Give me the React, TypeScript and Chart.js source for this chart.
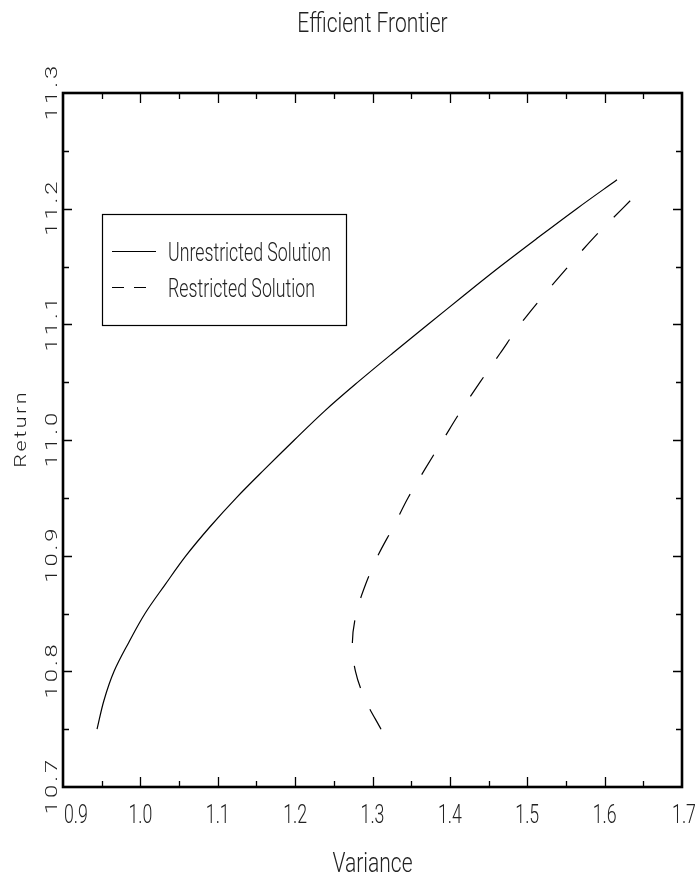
import React, { useEffect, useRef } from "react";
import { Chart, registerables } from "chart.js";

Chart.register(...registerables);

// ---- data ----
const unrestrictedReturn = [10.75, 10.775, 10.8, 10.825, 10.85, 10.875, 10.9, 10.925, 10.95, 10.975, 11.0, 11.025, 11.05, 11.075, 11.1, 11.125, 11.15, 11.175, 11.2, 11.225];
const unrestrictedVariance = [0.944, 0.953, 0.966, 0.985, 1.006, 1.032, 1.059, 1.09, 1.124, 1.161, 1.199, 1.238, 1.281, 1.326, 1.372, 1.418, 1.465, 1.514, 1.564, 1.616];

const restrictedReturn = [10.75, 10.775, 10.8, 10.825, 10.85, 10.875, 10.9, 10.925, 10.95, 10.975, 11.0, 11.025, 11.05, 11.075, 11.1, 11.125, 11.15, 11.175, 11.2, 11.219];
const restrictedVariance = [1.311, 1.291, 1.278, 1.274, 1.279, 1.291, 1.307, 1.327, 1.346, 1.368, 1.391, 1.414, 1.439, 1.465, 1.491, 1.521, 1.553, 1.586, 1.623, 1.651];

const seriesNames = ["Unrestricted Solution", "Restricted Solution"];
const chartTitle = "Efficient Frontier";
const xTitle = "Variance";
const yTitle = "Return";
const xMin = 0.9, xMax = 1.7, yMin = 10.7, yMax = 11.3;

const TEXT = "#222";
const LABEL_FONT = '300 25px Roboto, "Liberation Sans", Arial, sans-serif';
const TITLE_FONT = '300 28px Roboto, "Liberation Sans", Arial, sans-serif';
const ROT_FONT = '300 17px Roboto, "DejaVu Sans", sans-serif';
const ROT_TITLE_FONT = '300 16px Roboto, "DejaVu Sans", sans-serif';

function drawText(ctx: CanvasRenderingContext2D, s: string, x: number, y: number, font: string, sx: number, align: CanvasTextAlign) {
  ctx.save();
  ctx.translate(x, y);
  ctx.scale(sx, 1);
  ctx.font = font;
  ctx.fillStyle = TEXT;
  ctx.textAlign = align;
  ctx.textBaseline = "alphabetic";
  ctx.fillText(s, 0, 0);
  ctx.restore();
}

// rotated (-90deg) spaced text, centred on yc, baseline at x
function drawRotated(ctx: CanvasRenderingContext2D, s: string, x: number, yc: number, font: string, sx: number, spacing: number) {
  ctx.save();
  ctx.translate(x, yc);
  ctx.rotate(-Math.PI / 2);
  ctx.font = font;
  ctx.fillStyle = TEXT;
  ctx.textAlign = "left";
  ctx.textBaseline = "alphabetic";
  const chars = s.split("");
  const widths = chars.map((c) => ctx.measureText(c).width * sx);
  const total = widths.reduce((a, b) => a + b, 0) + spacing * (chars.length - 1);
  let pos = -total / 2;
  chars.forEach((c, i) => {
    ctx.save();
    ctx.translate(pos, 0);
    ctx.scale(sx, 1);
    ctx.fillText(c, 0, 0);
    ctx.restore();
    pos += widths[i] + spacing;
  });
  ctx.restore();
}

const isMajor = (v: number) => Math.abs(v * 10 - Math.round(v * 10)) < 1e-6;

const framePlugin = {
  id: "framePlugin",
  afterDraw(chart: any) {
    const ctx: CanvasRenderingContext2D = chart.ctx;
    const { left, right, top, bottom } = chart.chartArea;
    const xs = chart.scales.x;
    const ys = chart.scales.y;
    ctx.save();
    ctx.strokeStyle = "#000";
    // ticks
    ctx.lineWidth = 1.3;
    xs.ticks.forEach((t: any) => {
      const v = t.value;
      if (v <= xMin + 1e-9 || v >= xMax - 1e-9) return;
      const px = Math.round(xs.getPixelForValue(v)) + 0.5;
      const len = isMajor(v) ? 10 : 6;
      ctx.beginPath();
      ctx.moveTo(px, bottom); ctx.lineTo(px, bottom - len);
      ctx.moveTo(px, top); ctx.lineTo(px, top + len);
      ctx.stroke();
    });
    ys.ticks.forEach((t: any) => {
      const v = t.value;
      if (v <= yMin + 1e-9 || v >= yMax - 1e-9) return;
      const py = Math.round(ys.getPixelForValue(v)) + 0.5;
      const len = isMajor(v) ? 9 : 6;
      ctx.beginPath();
      ctx.moveTo(left, py); ctx.lineTo(left + len, py);
      ctx.moveTo(right, py); ctx.lineTo(right - len, py);
      ctx.stroke();
    });
    // frame
    ctx.lineWidth = 2.6;
    ctx.strokeRect(left, top, right - left, bottom - top);

    // x tick labels
    const xMajor = xs.ticks.filter((t: any) => isMajor(t.value));
    xMajor.forEach((t: any, i: number) => {
      const px = xs.getPixelForValue(t.value);
      const label = t.value.toFixed(1);
      if (i === 0) drawText(ctx, label, px + 1, 823, LABEL_FONT, 0.71, "left");
      else if (i === xMajor.length - 1) drawText(ctx, label, px + 2, 823, LABEL_FONT, 0.71, "center");
      else drawText(ctx, label, px, 823, LABEL_FONT, 0.71, "center");
    });
    // y tick labels (rotated)
    ys.ticks.filter((t: any) => isMajor(t.value)).forEach((t: any) => {
      const py = ys.getPixelForValue(t.value);
      drawRotated(ctx, t.value.toFixed(1), 57, py, ROT_FONT, 1.4, 3);
    });

    // titles
    drawText(ctx, chartTitle, (left + right) / 2, 32, TITLE_FONT, 0.75, "center");
    drawText(ctx, xTitle, (left + right) / 2, 872, TITLE_FONT, 0.75, "center");
    drawRotated(ctx, yTitle, 26, 430, ROT_TITLE_FONT, 1.35, 2.5);

    // legend
    ctx.lineWidth = 1.2;
    ctx.strokeStyle = "#000";
    ctx.strokeRect(102.5, 214.5, 244, 111);
    ctx.beginPath();
    ctx.moveTo(112, 251.5); ctx.lineTo(156, 251.5);
    ctx.stroke();
    ctx.beginPath();
    ctx.setLineDash([12, 10]);
    ctx.moveTo(112, 287.5); ctx.lineTo(147, 287.5);
    ctx.stroke();
    ctx.setLineDash([]);
    drawText(ctx, seriesNames[0], 168, 261, LABEL_FONT, 0.71, "left");
    drawText(ctx, seriesNames[1], 168, 297, LABEL_FONT, 0.71, "left");
    ctx.restore();
  },
};

export default function App() {
  const ref = useRef<HTMLCanvasElement | null>(null);
  useEffect(() => {
    if (!ref.current) return;
    const chart = new Chart(ref.current, {
      type: "scatter",
      data: {
        datasets: [
          {
            label: seriesNames[0],
            data: unrestrictedReturn.map((r, i) => ({ x: unrestrictedVariance[i], y: r })),
            showLine: true,
            borderColor: "#000",
            borderWidth: 1.2,
            pointRadius: 0,
            tension: 0.35,
            fill: false,
          },
          {
            label: seriesNames[1],
            data: restrictedReturn.map((r, i) => ({ x: restrictedVariance[i], y: r })),
            showLine: true,
            borderColor: "#000",
            borderWidth: 1.2,
            borderDash: [23, 23],
            pointRadius: 0,
            tension: 0.35,
            fill: false,
          },
        ],
      },
      options: {
        animation: false,
        responsive: false,
        layout: { padding: { top: 93, right: 14, left: 0, bottom: 0 } },
        plugins: { legend: { display: false }, tooltip: { enabled: false }, title: { display: false } },
        scales: {
          x: {
            type: "linear",
            min: xMin,
            max: xMax,
            ticks: { stepSize: 0.05, display: false },
            grid: { display: false },
            border: { display: false },
            afterFit: (s: any) => { s.height = 99; },
          },
          y: {
            type: "linear",
            min: yMin,
            max: yMax,
            ticks: { stepSize: 0.05, display: false },
            grid: { display: false },
            border: { display: false },
            afterFit: (s: any) => { s.width = 63; },
          },
        },
      },
      plugins: [framePlugin],
    });
    return () => chart.destroy();
  }, []);
  return (
    <div style={{ position: "fixed", left: 0, top: 0, width: 696, height: 886, background: "#fff" }}>
      <canvas ref={ref} width={696} height={886} style={{ display: "block" }} />
    </div>
  );
}
